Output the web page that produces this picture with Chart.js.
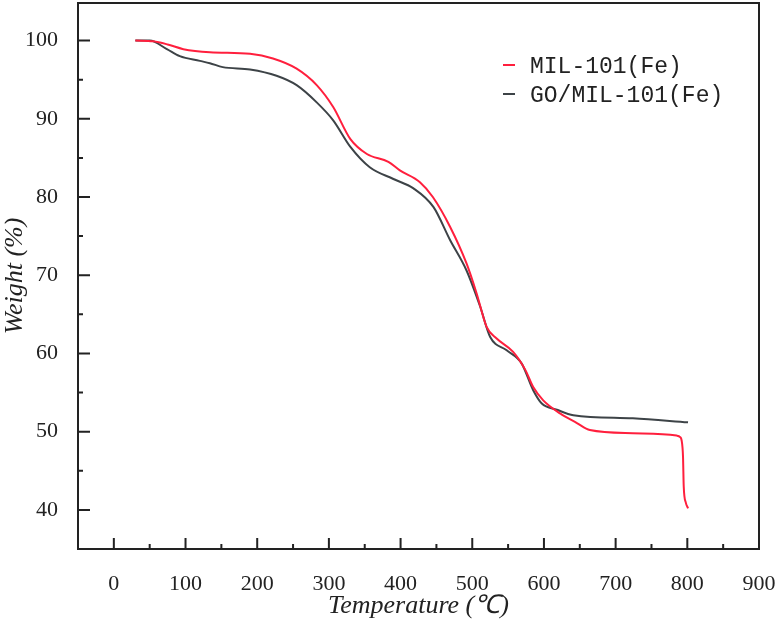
<!DOCTYPE html>
<html>
<head>
<meta charset="utf-8">
<script src="https://cdn.jsdelivr.net/npm/chart.js@4.4.1/dist/chart.umd.min.js"></script>
<style>
  html, body { margin: 0; padding: 0; background: #fff; }
  #wrap { width: 776px; height: 626px; }
</style>
</head>
<body>
<div id="wrap"><canvas id="tgaChart"></canvas></div>
<script>
// values
const milTemp = [30, 55, 75, 97, 134, 190, 222, 255, 283, 306, 330, 353, 383, 399, 427, 445, 469, 492, 506, 520, 534, 557, 574, 585, 599, 623, 646, 664, 724, 785, 790, 792, 794, 795, 798, 801];
const milWeight = [100, 99.9, 99.5, 98.9, 98.5, 98.3, 97.7, 96.4, 94.3, 91.5, 87.4, 85.5, 84.5, 83.4, 81.9, 80, 76.2, 71.5, 67.7, 63.4, 61.9, 60.2, 57.9, 55.7, 54, 52.3, 51.1, 50.2, 49.8, 49.5, 49.3, 48.9, 46.8, 43, 40.9, 40.2];

const goTemp = [30, 50, 74, 92, 120, 134, 152, 190, 227, 255, 283, 306, 330, 357, 390, 418, 446, 469, 492, 511, 525, 548, 569, 585, 597, 618, 641, 724, 801];
const goWeight = [100, 100, 98.9, 98, 97.4, 97.1, 96.6, 96.3, 95.5, 94.3, 92.1, 89.8, 86.4, 83.8, 82.3, 81.1, 78.7, 74.5, 70.6, 66.0, 62.1, 60.4, 58.7, 55.3, 53.6, 52.8, 52.1, 51.7, 51.2];

const xTicks = [0, 100, 200, 300, 400, 500, 600, 700, 800, 900];
const yTicks = [40, 50, 60, 70, 80, 90, 100];

const seriesLabels = ["MIL-101(Fe)", "GO/MIL-101(Fe)"];

const toPoints = (xs, ys) => xs.map((x, i) => ({ x, y: ys[i] }));

// frame + inward ticks
const framePlugin = {
  id: "frame",
  afterDraw(chart) {
    const { ctx, chartArea: a, scales } = chart;
    ctx.save();
    ctx.strokeStyle = "#222";
    ctx.lineWidth = 2;
    ctx.strokeRect(a.left, a.top, a.right - a.left, a.bottom - a.top);
    ctx.beginPath();
    xTicks.forEach(v => {
      const px = scales.x.getPixelForValue(v);
      if (px > a.left + 2 && px < a.right - 2) {
        ctx.moveTo(px, a.bottom); ctx.lineTo(px, a.bottom - 11);
      }
      const m = scales.x.getPixelForValue(v + 50);
      if (m > a.left + 2 && m < a.right - 2) {
        ctx.moveTo(m, a.bottom); ctx.lineTo(m, a.bottom - 5);
      }
    });
    yTicks.forEach(v => {
      const py = scales.y.getPixelForValue(v);
      ctx.moveTo(a.left, py); ctx.lineTo(a.left + 12, py);
      const m = scales.y.getPixelForValue(v + 5);
      if (m > a.top + 2) { ctx.moveTo(a.left, m); ctx.lineTo(a.left + 5, m); }
    });
    ctx.stroke();
    ctx.restore();
  }
};

// legend inside the plot, top right
const legendPlugin = {
  id: "innerLegend",
  afterDraw(chart) {
    const { ctx } = chart;
    ctx.save();
    ctx.font = "23px 'Liberation Mono'";
    ctx.textBaseline = "middle";
    chart.data.datasets.forEach((ds, i) => {
      const y = 67 + i * 29;
      ctx.strokeStyle = ds.borderColor;
      ctx.lineWidth = 2;
      ctx.beginPath();
      ctx.moveTo(503, y - 2); ctx.lineTo(515, y - 2);
      ctx.stroke();
      ctx.fillStyle = "#222";
      ctx.fillText(ds.label, 530, y);
    });
    ctx.restore();
  }
};

const ctx = document.getElementById("tgaChart").getContext("2d");
new Chart(ctx, {
  type: "line",
  data: {
    datasets: [
      { label: seriesLabels[0], data: toPoints(milTemp, milWeight), borderColor: "#ff1f3d" },
      { label: seriesLabels[1], data: toPoints(goTemp, goWeight), borderColor: "#3d4347" }
    ].map(ds => ({
      ...ds,
      borderWidth: 2,
      pointRadius: 0,
      fill: false,
      tension: 0.4,
      cubicInterpolationMode: "monotone"
    }))
  },
  options: {
    responsive: true,
    maintainAspectRatio: false,
    animation: false,
    layout: { padding: { top: 3, right: 17, left: 0, bottom: 0 } },
    scales: {
      x: {
        type: "linear",
        min: -50,
        max: 900,
        afterBuildTicks: s => { s.ticks = xTicks.map(v => ({ value: v })); },
        afterFit: s => { s.height = 77; s.paddingLeft = 0; s.paddingRight = 0; },
        grid: { display: false },
        border: { display: false },
        ticks: { padding: 14, color: "#222", font: { family: "'Liberation Serif'", size: 22 }, maxRotation: 0 },
        title: {
          display: true,
          text: "Temperature (℃)",
          color: "#222",
          padding: { top: 0, bottom: 4 },
          font: { family: "'Liberation Serif'", size: 26, style: "italic", lineHeight: 1.2 }
        }
      },
      y: {
        min: 35,
        max: 104.8,
        afterBuildTicks: s => { s.ticks = yTicks.map(v => ({ value: v })); },
        afterFit: s => { s.width = 78; s.paddingTop = 0; s.paddingBottom = 0; },
        grid: { display: false },
        border: { display: false },
        ticks: { padding: 12, color: "#222", font: { family: "'Liberation Serif'", size: 22 } },
        title: {
          display: true,
          text: "Weight (%)",
          color: "#222",
          padding: { top: 0, bottom: 0 },
          font: { family: "'Liberation Serif'", size: 26, style: "italic", lineHeight: 1.2 }
        }
      }
    },
    plugins: {
      legend: { display: false },
      tooltip: { enabled: false }
    }
  },
  plugins: [framePlugin, legendPlugin]
});
</script>
</body>
</html>
